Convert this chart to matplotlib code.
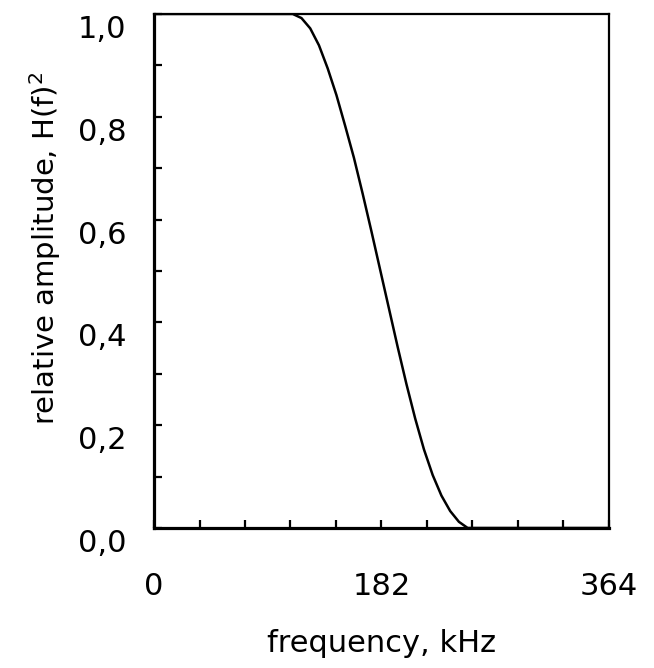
import matplotlib
matplotlib.use("Agg")
from matplotlib import pyplot as plt
from matplotlib import transforms
from matplotlib.ticker import FixedLocator

# values
freq_khz = [0, 111, 118, 125, 132, 139, 146, 153, 160, 167, 174, 181,
            188, 195, 202, 209, 216, 223, 230, 237, 244, 251, 364]
amp = [1.0, 1.0, 0.992, 0.972, 0.939, 0.894, 0.842, 0.782, 0.72, 0.65,
       0.577, 0.502, 0.427, 0.352, 0.28, 0.213, 0.153, 0.103, 0.063,
       0.033, 0.012, 0.0, 0.0]

x_major = [0, 182, 364]
x_minor = [36.4, 72.8, 109.2, 145.6, 218.4, 254.8, 291.2, 327.6]
y_major = [0.0, 0.2, 0.4, 0.6, 0.8, 1.0]
y_minor = [0.1, 0.3, 0.5, 0.7, 0.9]
y_labels = ["0,0", "0,2", "0,4", "0,6", "0,8", "1,0"]

fig = plt.figure(figsize=(6.54, 6.68), dpi=100)
ax = fig.add_axes([0.2355, 0.2096, 0.6955, 0.7695])

ax.plot(freq_khz, amp, color="black", lw=1.8)
ax.set_xlim(0, 364)
ax.set_ylim(0, 1.0)

ax.xaxis.set_major_locator(FixedLocator(x_major))
ax.xaxis.set_minor_locator(FixedLocator(x_minor))
ax.yaxis.set_major_locator(FixedLocator(y_major))
ax.yaxis.set_minor_locator(FixedLocator(y_minor))
ax.set_xticklabels([str(v) for v in x_major])
ax.set_yticklabels(y_labels)

ax.tick_params(which="both", direction="in", length=6, width=1.6,
               labelsize=22, color="black")
ax.tick_params(axis="x", which="major", pad=32)
ax.tick_params(axis="y", which="major", pad=20)

for s in ["left", "bottom"]:
    ax.spines[s].set_linewidth(2.3)
for s in ["top", "right"]:
    ax.spines[s].set_linewidth(1.6)

# tick labels sit a little below their ticks in the original
off = transforms.ScaledTranslation(0, -9 / 72, fig.dpi_scale_trans)
for lab in ax.get_yticklabels():
    lab.set_transform(lab.get_transform() + off)

ax.set_xlabel("frequency, kHz", fontsize=22, labelpad=20)
ax.set_ylabel(r"relative amplitude, H(f)$^{2}$", fontsize=21)
ax.yaxis.set_label_coords(-0.20, 0.545)

fig.savefig("out.png", dpi=100)
